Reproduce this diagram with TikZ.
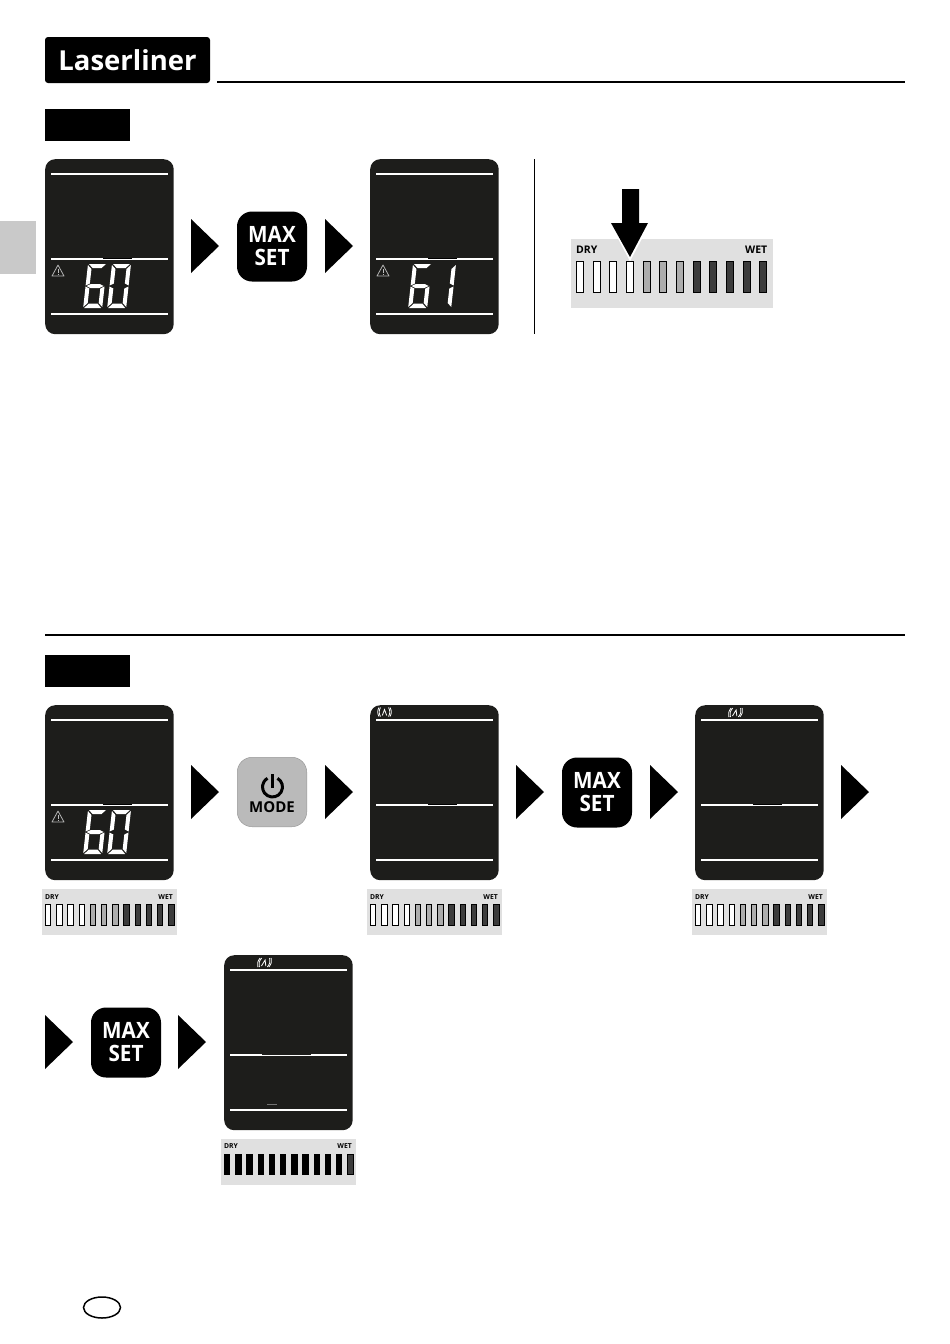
\documentclass[tikz,border=0pt]{standalone}
\usepackage{fontspec}
\setmainfont{Open Sans}
\newfontfamily\buttonfont{Open Sans}[FakeStretch=0.92]
\definecolor{panelgray}{HTML}{1D1D1B}
\definecolor{gaugegray}{HTML}{E0E0E0}
\definecolor{barmid}{HTML}{ADADAD}
\definecolor{bardark}{HTML}{3C3C3C}
\definecolor{modegray}{HTML}{BABABA}
\definecolor{sidegray}{HTML}{C9C9C9}

% seven segment digit, drawn around its top left corner
\newcommand{\segt}{\fill[white] (1,0) -- (18,0) -- (14,4) -- (5,4) -- cycle;}
\newcommand{\seglu}{\fill[white] (0,1) -- (4,5) -- (4,19.5) -- (0,21.5) -- cycle;}
\newcommand{\segru}{\fill[white] (19,1) -- (19,21.5) -- (15,19.5) -- (15,5) -- cycle;}
\newcommand{\segm}{\fill[white] (1,22) -- (5,20) -- (14,20) -- (18,22) -- (14,24) -- (5,24) -- cycle;}
\newcommand{\segll}{\fill[white] (0,22.5) -- (4,24.5) -- (4,39) -- (0,43) -- cycle;}
\newcommand{\segrl}{\fill[white] (19,22.5) -- (19,43) -- (15,39) -- (15,24.5) -- cycle;}
\newcommand{\segb}{\fill[white] (5,39.7) -- (14,39.7) -- (18,44) -- (1,44) -- cycle;}
\newcommand{\digitsix}{\segt\seglu\segm\segll\segrl\segb}
\newcommand{\digitzero}{\segt\seglu\segru\segll\segrl\segb}
\newcommand{\digitone}{\segru\segrl}
\newcommand{\lcddigit}[3]{%
  \begin{scope}[shift={(#1,#2)}, xslant=0.11]#3\end{scope}}

% panel: name, left, top
\newcommand{\lcdpanel}[3]{%
  \node[lcdbox, anchor=north west] (#1) at (#2,#3) {};
  \draw[lcdline] (#2+6,#3+15) -- (#2+123,#3+15);
  \draw[lcdline] (#2+6,#3+100) -- (#2+123,#3+100);
  \draw[lcdline] (#2+6,#3+155) -- (#2+123,#3+155);
}
\newcommand{\lcdnotch}[3]{\fill[black] (#1,#3+98.9) rectangle (#2,#3+100);}

\newcommand{\warnicon}[2]{%
  \draw[warnline] (#1+6,#2) -- (#1+12,#2+11) -- (#1,#2+11) -- cycle;
  \fill[warngray] (#1+5.5,#2+4) rectangle (#1+6.5,#2+8);
  \fill[warngray] (#1+5.5,#2+9) rectangle (#1+6.5,#2+10);
}
% signal waves: centre x, centre y, slant
\newcommand{\signalicon}[3]{%
  \begin{scope}[shift={(#1,#2)}, xslant=#3, signalline]
    \draw (-4,-4.5) to[bend right=30] (-4,4.5);
    \draw (-5.5,-4.5) to[bend right=30] (-5.5,4.5);
    \draw (4,-4.5) to[bend left=30] (4,4.5);
    \draw (5.5,-4.5) to[bend left=30] (5.5,4.5);
    \draw (-2.2,3.5) -- (0,-2.5) -- (2.2,3.5);
  \end{scope}
}

\newcommand{\playarrow}[2]{\fill[black] (#1,#2-27) -- (#1+28,#2) -- (#1,#2+27) -- cycle;}

\newcommand{\normalbars}{0/white,1/white,2/white,3/white,4/barmid,5/barmid,6/barmid,7/bardark,8/bardark,9/bardark,10/bardark,11/bardark}
\newcommand{\fullbars}{0/black,1/black,2/black,3/black,4/black,5/black,6/black,7/black,8/black,9/black,10/black,11/bardark}

% small gauge: name, left, top, bars
\newcommand{\smallgauge}[4]{%
  \fill[gaugegray] (#2,#3) rectangle ++(135,46);
  \node[gaugelabel, font=\fontsize{6.8}{7}\selectfont\bfseries, anchor=base west] (#1dry) at (#2+3,#3+10) {DRY};
  \node[gaugelabel, font=\fontsize{6.8}{7}\selectfont\bfseries, anchor=base east] (#1wet) at (#2+131,#3+10) {WET};
  \foreach \i/\c in #4 {
    \draw[black, fill=\c, line width=0.8pt] (#2+3.3+11.2*\i,#3+15.5) rectangle ++(5.4,20.5);
  }
}

\begin{document}
\begin{tikzpicture}[x=1pt, y=-1pt,
    lcdbox/.style={rectangle, rounded corners=10pt, fill=panelgray, minimum width=128.5pt, minimum height=175pt, inner sep=0pt},
    lcdline/.style={white, line width=2pt},
    warngray/.style={color=black!25},
    warnline/.style={draw=black!30, line width=0.8pt, line join=round},
    signalline/.style={white, line width=0.8pt},
    maxbutton/.style={rectangle, rounded corners=15pt, fill=black, text=white, minimum size=70pt, inner sep=0pt, align=center, font=\buttonfont\fontsize{22.5}{23}\selectfont\bfseries},
    modebutton/.style={rectangle, rounded corners=15pt, fill=modegray, draw=black!40, line width=0.5pt, minimum size=69.5pt, inner sep=0pt},
    modelabel/.style={inner sep=0pt, font=\fontsize{15}{15}\selectfont\bfseries},
    tagbox/.style={rectangle, fill=black, minimum width=85pt, minimum height=32pt, inner sep=0pt},
    gaugelabel/.style={inner sep=0pt, text=black},
    rulerline/.style={black, line width=2pt}]
  \useasboundingbox (0,0) rectangle (950,1344);

  \node[rectangle, rounded corners=3pt, fill=black, text=white, minimum width=165pt, minimum height=46pt, inner sep=0pt, font=\fontsize{27.5}{28}\selectfont\bfseries] (logo) at (127.5,60) {Laserliner};
  \draw[rulerline] (217,82) -- (905,82);
  \node[tagbox] (tagA) at (87.5,125) {};
  \fill[sidegray] (0,221) rectangle (36,274);

  % first row
  \lcdpanel{panelA}{45}{159}
  \lcdnotch{103}{132}{159}
  \warnicon{52}{265}
  \lcddigit{88}{264}{\digitsix}
  \lcddigit{112}{264}{\digitzero}
  \playarrow{191}{246}
  \node[maxbutton] (maxA) at (272,246.5) {MAX\\SET};
  \playarrow{325}{246}
  \lcdpanel{panelB}{370}{159}
  \lcdnotch{428}{457}{159}
  \warnicon{377}{265}
  \lcddigit{413}{264}{\digitsix}
  \lcddigit{437}{264}{\digitone}
  \draw[black, line width=1.1pt] (534.5,159) -- (534.5,334);

  % big gauge
  \fill[gaugegray] (571,239) rectangle (773,308);
  \node[gaugelabel, font=\fontsize{10.5}{11}\selectfont\bfseries, anchor=base west] (bigdry) at (576,253) {DRY};
  \node[gaugelabel, font=\fontsize{10.5}{11}\selectfont\bfseries, anchor=base east] (bigwet) at (767.5,253) {WET};
  \foreach \i/\c in \normalbars {
    \draw[black, fill=\c, line width=1pt] (576.5+16.65*\i,261.5) rectangle ++(7,30.5);
  }
  \draw[white, line width=3pt] (612,224) -- (630,258) -- (648,224);
  \fill[black] (622,189) -- (639,189) -- (639,223) -- (648,223) -- (630,257) -- (611,223) -- (622,223) -- cycle;

  \draw[rulerline] (45,635) -- (905,635);
  \node[tagbox] (tagB) at (87.5,671) {};

  % second row
  \lcdpanel{panelC}{45}{705}
  \lcdnotch{103}{132}{705}
  \warnicon{52}{811}
  \lcddigit{88}{810}{\digitsix}
  \lcddigit{112}{810}{\digitzero}
  \smallgauge{gaugeC}{42}{889}{\normalbars}
  \playarrow{191}{792}
  \node[modebutton] (modeA) at (272,792) {};
  \draw[black, line width=3pt] (277.5,778.3) arc [start angle=-60, end angle=240, radius=10];
  \draw[black, line width=3pt] (272.5,774) -- (272.5,788);
  \node[modelabel] (modeLabel) at (272,807) {MODE};
  \playarrow{325}{792}
  \lcdpanel{panelD}{370}{705}
  \lcdnotch{428}{457}{705}
  \signalicon{384.5}{712}{0}
  \smallgauge{gaugeD}{367}{889}{\normalbars}
  \playarrow{516}{792}
  \node[maxbutton] (maxB) at (597,792.5) {MAX\\SET};
  \playarrow{650}{792}
  \lcdpanel{panelE}{695}{705}
  \lcdnotch{753}{782}{705}
  \signalicon{735.5}{712.5}{0.25}
  \smallgauge{gaugeE}{692}{889}{\normalbars}
  \playarrow{841}{792}

  % third row
  \playarrow{45}{1042}
  \node[maxbutton] (maxC) at (126,1042.5) {MAX\\SET};
  \playarrow{178}{1042}
  \lcdpanel{panelF}{224}{955}
  \fill[panelgray] (262,1053.7) rectangle (311,1054.6);
  \fill[black!55] (267,1104.2) rectangle (277,1104.8);
  \signalicon{264.5}{962.5}{0.25}
  \smallgauge{gaugeF}{221}{1138.5}{\fullbars}

  \draw[black, line width=1.5pt] (102,1307.5) ellipse [x radius=18.5, y radius=10.5];
\end{tikzpicture}
\end{document}
